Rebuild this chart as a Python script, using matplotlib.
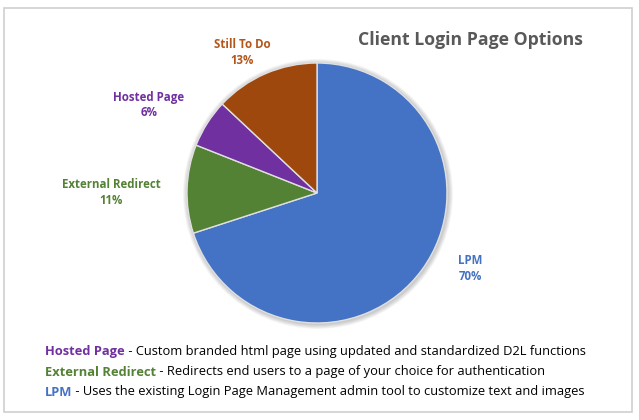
import matplotlib.pyplot as plt
from matplotlib.patches import Rectangle, Circle

labels = ['LPM', 'External Redirect', 'Hosted Page', 'Still To Do']
values = [70, 11, 6, 13]
colors = ['#4472C4', '#548235', '#7030A0', '#9E480E']
label_colors = ['#4472C4', '#548235', '#7030A0', '#B4561A']
# label positions in pixels (x, y of first line)
label_pos = [(470, 260), (111, 185), (149, 97), (242, 45)]

notes = [
    ('Hosted Page', ' - Custom branded html page using updated and standardized D2L functions', '#7030A0'),
    ('External Redirect', ' - Redirects end users to a page of your choice for authentication', '#548235'),
    ('LPM', ' - Uses the existing Login Page Management admin tool to customize text and images', '#4472C4'),
]

W, H = 639, 420
plt.rcParams['font.family'] = ['Open Sans', 'DejaVu Sans']

fig = plt.figure(figsize=(W / 100, H / 100), dpi=100)
ax = fig.add_axes([0, 0, 1, 1])

# outer frame
ax.add_patch(Rectangle((4, H - 412), 628, 404, fill=False, edgecolor='#d0d0d0', lw=1.2))

cx, cy, r = 317, H - 193, 130

# soft shadow
for i in range(6):
    ax.add_patch(Circle((cx + 1, cy - 1), r + 1 + i * 0.8, color='#000000', alpha=0.035, lw=0))

ax.pie(values, colors=colors, startangle=90, counterclock=False,
       center=(cx, cy), radius=r, frame=True,
       wedgeprops=dict(edgecolor='#e0e0e0', linewidth=1))
ax.set_xlim(0, W)
ax.set_ylim(0, H)
ax.set_aspect('equal')
ax.axis('off')

for lab, v, c, (x, y) in zip(labels, values, label_colors, label_pos):
    ax.text(x, H - y, lab, color=c, fontsize=8.3, fontweight='bold', ha='center', va='center')
    ax.text(x, H - y - 16, f'{v}%', color=c, fontsize=8.3, fontweight='bold', ha='center', va='center')

ax.text(470, H - 40, 'Client Login Page Options', color='#595959', fontsize=12.7,
        fontweight='bold', ha='center', va='center')

renderer = fig.canvas.get_renderer()
for i, (head, rest, c) in enumerate(notes):
    y = H - 352 - i * 20
    t = ax.text(45, y, head, color=c, fontsize=9.25, fontweight='bold', ha='left', va='center')
    bb = t.get_window_extent(renderer)
    ax.text(bb.x1, y, rest, color='#000000', fontsize=9.25, ha='left', va='center')

fig.savefig('out.png', dpi=100)
